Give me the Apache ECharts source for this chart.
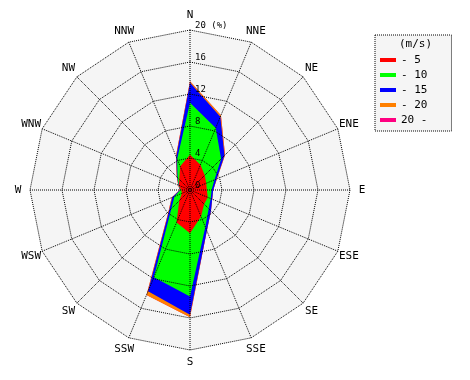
<!DOCTYPE html>
<html>
<head>
<meta charset="utf-8">
<script src="https://cdn.jsdelivr.net/npm/echarts@6/dist/echarts.min.js"></script>
<style>html,body{margin:0;padding:0;background:#fff}#c{width:470px;height:380px}</style>
</head>
<body>
<div id="c"></div>
<script>
const directions = ['N','NNE','NE','ENE','E','ESE','SE','SSE','S','SSW','SW','WSW','W','WNW','NW','NNW'];
const speedClasses = ['- 5','- 10','- 15','- 20','20 -'];
const classColors = ['#ff0000','#00ff00','#0000ff','#ff8000','#ff0080'];
// frequency (%) per speed class, per direction (N, NNE, ... NNW)
const freqTo5   = [4.4,3.4,2.6,2.2,2.1,2.4,2.5,3.6,5.4,4.4,1.9,1.1,1.1,1.5,1.9,3.2];
const freqTo10  = [6.5,5.0,2.9,1.1,0.6,0.4,0.8,1.4,7.9,7.4,1.4,1.0,0.1,0.0,0.3,1.0];
const freqTo15  = [2.5,1.5,0.6,0.3,0.2,0.2,0.4,0.5,2.3,1.9,0.4,0.3,0.05,0.05,0.1,0.3];
const freqTo20  = [0.2,0.2,0.1,0.05,0,0,0,0,0.3,0.5,0.1,0.1,0.05,0.05,0.05,0.1];
const freqOver20= [0,0,0,0,0,0,0,0,0,0,0,0,0,0,0,0];
const radialTicks = [0,4,8,12,16,20];

const classes = [freqTo5, freqTo10, freqTo15, freqTo20, freqOver20];
// radar runs counter-clockwise, so list N then going west
const order = [0].concat(directions.map((d,i)=>i).slice(1).reverse());
const cum = [];
classes.forEach((arr,k)=>{
  cum.push(arr.map((v,i)=> v + (k>0 ? cum[k-1][i] : 0)));
});
const rMax = radialTicks[radialTicks.length-1];
const mono = 'DejaVu Sans Mono';

const indicatorsBase = order.map(i=>({name: directions[i], min:0, max:rMax}));
const indicatorsTop = order.map((i,j)=>{
  const o = {name: directions[i], min:0, max:rMax};
  if (j===0) o.axisLabel = {show:true};
  return o;
});

const seriesData = [];
for (let k = classes.length-1; k >= 0; k--) {
  seriesData.push({
    name: speedClasses[k],
    value: order.map(i=>cum[k][i]),
    itemStyle:{color: classColors[k]},
    areaStyle:{color: classColors[k], opacity:1},
    lineStyle:{width:0, opacity:0}
  });
}

const common = {
  center:[190,190], radius:160, startAngle:90, shape:'polygon', splitNumber:radialTicks.length-1
};
const dotted = {color:'#000', width:1, type:'dotted'};

const chart = echarts.init(document.getElementById('c'), null, {renderer:'canvas'});
chart.setOption({
  animation:false,
  backgroundColor:'#fff',
  title:{
    text:'(m/s)', left:399, top:39, padding:0,
    textStyle:{fontFamily:mono, fontSize:11, fontWeight:'normal', color:'#000'}
  },
  legend:{
    orient:'vertical', left:375, top:35,
    padding:[18,24,4,5],
    backgroundColor:'#f5f5f5', borderColor:'#000', borderWidth:1, borderType:'dotted',
    icon:'rect', itemWidth:16, itemHeight:4, itemGap:1,
    data: speedClasses,
    textStyle:{fontFamily:mono, fontSize:11, color:'#000', lineHeight:14},
    selectedMode:false
  },
  polar:{center:[190,190], radius:[0,160]},
  angleAxis:{
    type:'category', data: directions, boundaryGap:false, startAngle:90, clockwise:true, z:10,
    axisLine:{show:false}, axisTick:{show:false}, axisLabel:{show:false},
    splitLine:{show:true, lineStyle:dotted}, splitArea:{show:false}
  },
  radiusAxis:{
    min:0, max:rMax, z:10, axisLine:{show:false}, axisTick:{show:false}, axisLabel:{show:false},
    splitLine:{show:false}
  },
  radar:[
    Object.assign({}, common, {
      z:0,
      indicator: indicatorsBase,
      axisName:{show:false},
      axisLine:{show:false},
      splitLine:{show:false},
      splitArea:{show:true, areaStyle:{color:['#f5f5f5'], opacity:1}},
      axisLabel:{show:false},
      axisTick:{show:false}
    }),
    Object.assign({}, common, {
      z:10,
      indicator: indicatorsTop,
      nameGap:12,
      axisName:{show:true, color:'#000', fontFamily:mono, fontSize:11, align:'center', verticalAlign:'middle'},
      axisLine:{show:false},
      splitLine:{show:true, lineStyle:dotted},
      splitArea:{show:false},
      axisTick:{show:false},
      axisLabel:{show:false, color:'#000', fontFamily:mono, fontSize:9, margin:-5,
        align:'left', verticalAlign:'bottom',
        formatter:(v)=> v===rMax ? v+' (%)' : String(v)}
    })
  ],
  series:[{
    type:'radar', radarIndex:0, symbol:'none', silent:true, z:2,
    data: seriesData
  }]
});
</script>
</body>
</html>
